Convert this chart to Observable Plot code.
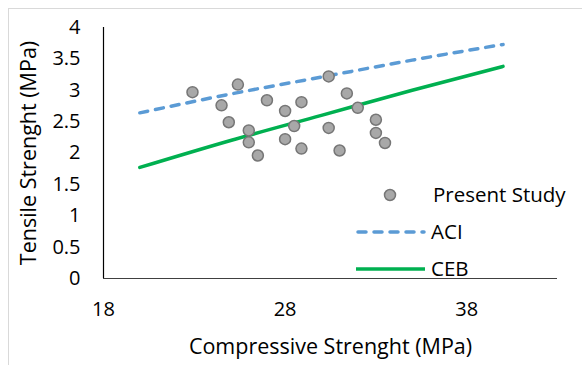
<!DOCTYPE html>
<html>
<head>
<meta charset="utf-8">
<script src="https://cdn.jsdelivr.net/npm/d3@7"></script>
<script src="https://cdn.jsdelivr.net/npm/@observablehq/plot@0.6"></script>
<style>
  html, body { margin: 0; padding: 0; background: #fff; overflow: hidden; }
  #wrap { position: relative; width: 582px; height: 365px; }
  #border { position: absolute; left: 8px; top: 8px; width: 620px; height: 400px; border: 1.5px solid #d9d9d9; box-sizing: border-box; }
  #chart { position: absolute; left: 0; top: 0; }
  #legend { position: absolute; left: 0; top: 0; pointer-events: none; }
</style>
</head>
<body>
<div id="wrap">
  <div id="border"></div>
  <div id="chart"></div>
  <svg id="legend" width="582" height="365" font-family="Open Sans" font-size="20.5"></svg>
</div>
<script>
// Present Study measurements (compressive MPa, tensile MPa)
const studyFc = [22.9, 25.4, 24.5, 27.0, 28.0, 28.9, 30.4, 31.4, 32.0, 24.9, 26.0, 28.5, 30.4, 33.0, 33.0, 26.0, 28.0, 33.5, 26.5, 28.9, 31.0];
const studyFt = [2.97, 3.09, 2.76, 2.84, 2.67, 2.81, 3.22, 2.95, 2.72, 2.49, 2.36, 2.43, 2.40, 2.53, 2.32, 2.17, 2.22, 2.16, 1.96, 2.07, 2.04];
// Code curves
const curveFc = [20, 25, 30, 35, 40];
const aciFt = [2.64, 2.94, 3.21, 3.48, 3.73];
const cebFt = [1.77, 2.20, 2.60, 3.00, 3.38];
// Tick labels
const xTicks = [18, 28, 38];
const yTicks = [0, 0.5, 1, 1.5, 2, 2.5, 3, 3.5, 4];
const xTitle = "Compressive Strenght (MPa)";
const yTitle = "Tensile Strenght (MPa)";
const legendLabels = ["Present Study", "ACI", "CEB"];

const study = studyFc.map((fc, i) => ({fc, ft: studyFt[i]}));
const aci = curveFc.map((fc, i) => ({fc, ft: aciFt[i]}));
const ceb = curveFc.map((fc, i) => ({fc, ft: cebFt[i]}));

const blue = "#5b9bd5", green = "#00b050";

const chart = Plot.plot({
  width: 582,
  height: 365,
  marginLeft: 103,
  marginRight: 25,
  marginTop: 27,
  marginBottom: 87,
  style: {fontFamily: "Open Sans", fontSize: "20px", background: "transparent", color: "#000", overflow: "visible"},
  x: {domain: [18, 43], axis: null},
  y: {domain: [0, 4], axis: null},
  marks: [
    Plot.axisX({ticks: xTicks, tickSize: 0, tickPadding: 23, fontSize: 20, label: null, tickFormat: d => String(d)}),
    Plot.axisY({ticks: yTicks, tickSize: 0, tickPadding: 23, fontSize: 20, label: null, tickFormat: d => String(d)}),
    Plot.ruleY([0], {stroke: "#404040", strokeWidth: 1.2}),
    Plot.ruleX([18], {stroke: "#000", strokeWidth: 1.2}),
    Plot.line(aci, {x: "fc", y: "ft", stroke: blue, strokeWidth: 3.5, strokeDasharray: "8,8", strokeLinecap: "round", curve: "monotone-x"}),
    Plot.line(ceb, {x: "fc", y: "ft", stroke: green, strokeWidth: 3.5, curve: "monotone-x"}),
    Plot.dot(study, {x: "fc", y: "ft", r: 5.5, fill: "#a8a8a8", stroke: "#767676", strokeWidth: 1.5}),
    Plot.text([xTitle], {frameAnchor: "bottom", dy: 69, fontSize: 21.5, textAnchor: "middle", lineAnchor: "middle", fill: "#000"}),
    Plot.text([yTitle], {frameAnchor: "left", dx: -74, rotate: -90, fontSize: 21.5, textAnchor: "middle", lineAnchor: "middle", fill: "#000"})
  ]
});
document.getElementById("chart").appendChild(chart);

// Legend
const lg = d3.select("#legend");
lg.append("circle").attr("cx", 390).attr("cy", 195).attr("r", 5.5).attr("fill", "#a8a8a8").attr("stroke", "#767676").attr("stroke-width", 1.5);
lg.append("line").attr("x1", 358).attr("x2", 424).attr("y1", 232).attr("y2", 232).attr("stroke", blue).attr("stroke-width", 3.5).attr("stroke-dasharray", "8,8").attr("stroke-linecap", "round");
lg.append("line").attr("x1", 356).attr("x2", 425).attr("y1", 269).attr("y2", 269).attr("stroke", green).attr("stroke-width", 3.5);
[[433, 195], [431, 232], [431, 269]].forEach(([x, y], i) => {
  lg.append("text").attr("x", x).attr("y", y).attr("dy", "0.35em").attr("fill", "#000").text(legendLabels[i]);
});
</script>
</body>
</html>
